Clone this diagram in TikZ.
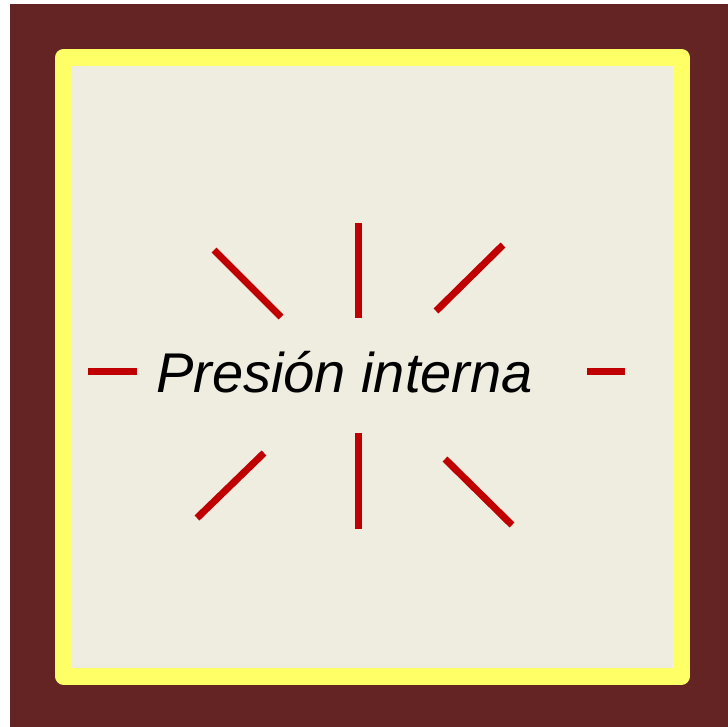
\documentclass[tikz,border=0pt]{standalone}
\usepackage{fontspec}
\setmainfont{Liberation Sans}
\definecolor{bgdark}{HTML}{652424}
\definecolor{frameyellow}{HTML}{FFFF66}
\definecolor{paper}{HTML}{EFECE0}
\definecolor{ray}{HTML}{C00000}
\tikzset{
  rayline/.style={draw=ray, line width=7pt},
  framebox/.style={draw=frameyellow, fill=paper, line width=17pt, line join=round},
}
\begin{document}
\begin{tikzpicture}[x=1pt,y=-1pt]
\useasboundingbox (0,0) rectangle (728,727);
\fill[white] (0,0) rectangle (728,727);
\fill[bgdark] (10,4) rectangle (728,727);
\path[framebox] (63.5,57.5) rectangle (681.5,676);
\node[anchor=base, inner sep=0pt, font=\fontsize{56}{60}\selectfont\itshape] (label) at (344.5,392) {Presión interna};
% rays
\draw[rayline] (358,223) -- (358,318);
\draw[rayline] (358,433) -- (358,529);
\draw[rayline] (88,371.5) -- (137,371.5);
\draw[rayline] (587,371.5) -- (625,371.5);
\draw[rayline] (214,250) -- (281,317);
\draw[rayline] (503,245) -- (436,311);
\draw[rayline] (264,453) -- (197,518);
\draw[rayline] (445,459) -- (512,525);
\end{tikzpicture}
\end{document}
